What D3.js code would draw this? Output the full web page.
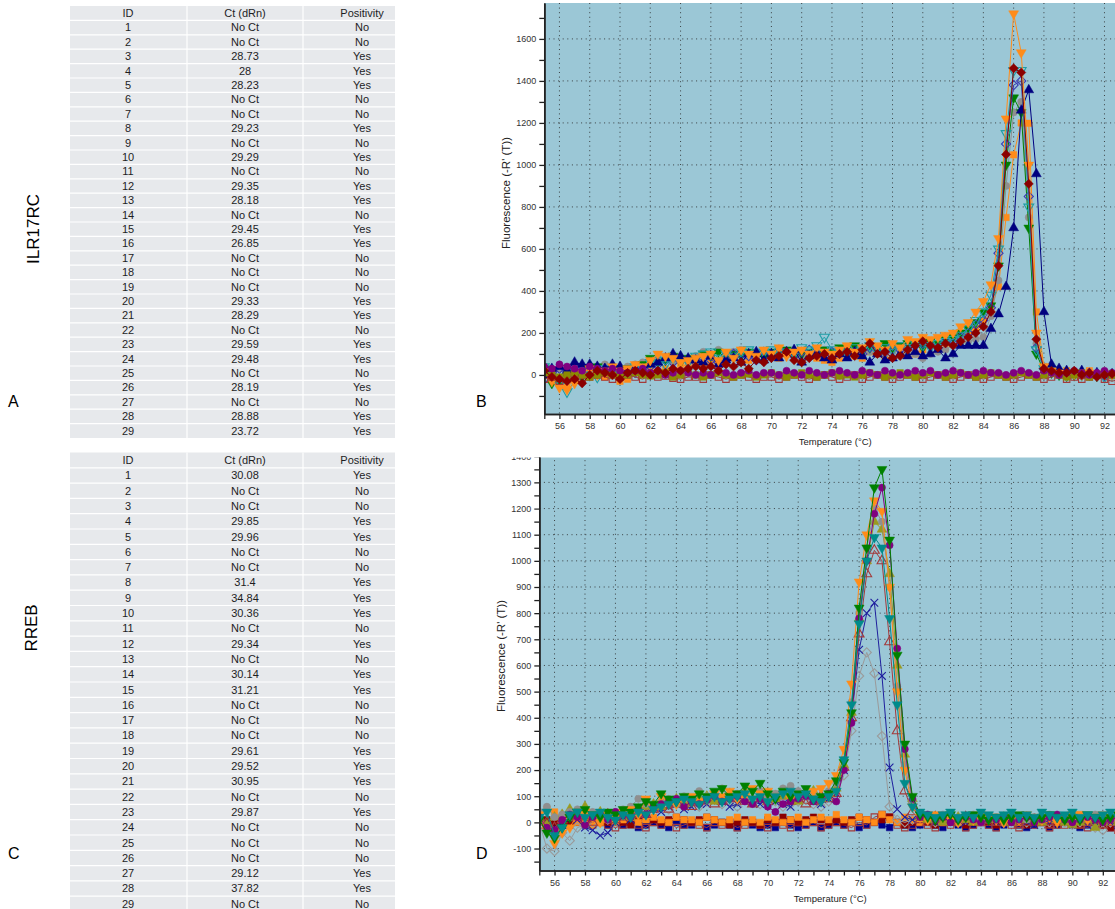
<!DOCTYPE html>
<html>
<head>
<meta charset="utf-8">
<script src="https://cdn.jsdelivr.net/npm/d3@7"></script>
<style>
  body { margin: 0; background: #fff; }
  svg { display: block; font-family: "Liberation Sans", Arial, sans-serif; }
</style>
</head>
<body>
<div id="fig"></div>
<script>
// ---------- table data ----------
const idsA = [1,2,3,4,5,6,7,8,9,10,11,12,13,14,15,16,17,18,19,20,21,22,23,24,25,26,27,28,29]
const ctA = ['No Ct','No Ct','28.73','28','28.23','No Ct','No Ct','29.23','No Ct','29.29','No Ct','29.35','28.18','No Ct','29.45','26.85','No Ct','No Ct','No Ct','29.33','28.29','No Ct','29.59','29.48','No Ct','28.19','No Ct','28.88','23.72']
const posA = ['No','No','Yes','Yes','Yes','No','No','Yes','No','Yes','No','Yes','Yes','No','Yes','Yes','No','No','No','Yes','Yes','No','Yes','Yes','No','Yes','No','Yes','Yes']

const idsC = [1,2,3,4,5,6,7,8,9,10,11,12,13,14,15,16,17,18,19,20,21,22,23,24,25,26,27,28,29]
const ctC = ['30.08','No Ct','No Ct','29.85','29.96','No Ct','No Ct','31.4','34.84','30.36','No Ct','29.34','No Ct','30.14','31.21','No Ct','No Ct','No Ct','29.61','29.52','30.95','No Ct','29.87','No Ct','No Ct','No Ct','29.12','37.82','No Ct']
const posC = ['Yes','No','No','Yes','Yes','No','No','Yes','Yes','Yes','No','Yes','No','Yes','Yes','No','No','No','Yes','Yes','Yes','No','Yes','No','No','No','Yes','Yes','No']

// ---------- melt curve data (temperature grid shared by all wells) ----------
const temps = [
  55,55.5,56,56.5,57,57.5,58,58.5,59,59.5,
  60,60.5,61,61.5,62,62.5,63,63.5,64,64.5,
  65,65.5,66,66.5,67,67.5,68,68.5,69,69.5,
  70,70.5,71,71.5,72,72.5,73,73.5,74,74.5,
  75,75.5,76,76.5,77,77.5,78,78.5,79,79.5,
  80,80.5,81,81.5,82,82.5,83,83.5,84,84.5,
  85,85.5,86,86.5,87,87.5,88,88.5,89,89.5,
  90,90.5,91,91.5,92,92.5,93,93.5,94,94.5]

// ILR17RC wells (panel B)
const bOrangeTri = [
  20,-30,-60,-70,-40,10,30,0,20,40,
  20,30,50,40,70,100,90,80,60,70,
  80,90,100,70,110,80,120,100,90,120,
  100,130,90,110,120,100,130,110,100,120,
  140,110,130,160,140,120,150,130,170,160,
  180,170,180,190,200,230,250,300,350,430,
  650,1220,1720,1535,1000,200,40,20,10,0,
  5,0,10,0,5,0,5,0,5,0]
const bRedDiamond = [
  20,-10,-20,-30,-20,-40,0,20,10,0,
  -20,10,20,10,0,20,10,30,20,30,
  40,30,40,20,50,40,60,30,70,60,
  80,90,110,70,60,80,90,100,80,100,
  110,90,120,150,100,110,80,90,120,140,
  160,140,130,150,140,160,180,200,230,300,
  520,1050,1460,1440,910,170,30,20,10,10,
  20,0,10,-10,0,5,0,10,0,5]
const bNavyTri = [
  0,30,40,20,60,50,50,40,30,50,
  40,10,30,20,50,60,80,100,90,80,
  70,60,90,50,70,80,60,100,110,70,
  100,80,110,120,60,90,100,80,70,100,
  80,110,90,60,100,70,80,100,90,110,
  90,100,120,80,100,140,140,140,140,220,
  290,420,700,1260,1357,957,300,50,30,20,
  10,20,0,10,0,5,10,0,5,0]
const bTealTri = [
  40,-20,-50,-80,-30,10,20,-10,30,20,
  10,20,40,30,60,70,50,80,70,60,
  90,100,110,80,100,90,110,120,100,110,
  120,100,110,100,130,120,140,180,120,110,
  100,130,120,140,110,130,120,140,130,150,
  140,130,150,160,170,190,220,260,300,380,
  600,1150,1450,1450,800,120,30,20,10,0,
  10,0,5,0,-10,0,5,0,-5,0]
const bGreenTri = [
  30,-40,-30,20,10,-10,30,40,20,10,
  0,30,20,50,80,60,70,90,60,80,
  70,100,90,110,80,100,90,110,100,90,
  110,100,120,90,100,110,100,120,110,130,
  120,140,110,130,120,150,130,140,150,140,
  130,160,150,170,180,200,220,250,300,330,
  520,1000,1320,1250,700,100,20,10,0,-5,
  0,5,0,-5,0,5,0,-5,0,5]
const bGreyCircle = [
  10,20,30,10,0,20,30,40,50,40,
  30,40,50,60,70,80,70,60,80,70,
  90,110,100,120,100,110,120,90,100,110,
  90,110,100,90,80,100,110,120,90,100,
  110,100,90,110,120,100,110,120,110,100,
  80,100,110,120,140,150,160,170,180,280,
  450,900,1250,1300,750,150,40,20,10,0,
  10,0,10,0,5,0,10,0,5,0]
const bOrangeSq = [
  0,20,-40,-60,-20,10,0,30,-10,0,
  -30,-20,10,30,20,10,30,20,40,50,
  60,40,70,50,80,90,60,70,80,100,
  90,80,100,110,90,100,80,70,60,80,
  100,90,80,110,100,90,120,130,110,100,
  120,140,130,150,180,200,210,220,260,320,
  420,750,1048,1200,1198,300,40,20,10,20,
  10,0,20,0,10,0,10,0,5,0]
const bBlueDiamond = [
  -20,10,30,20,40,30,20,10,30,20,
  30,20,10,30,40,50,70,60,80,70,
  60,80,70,60,90,100,80,90,70,110,
  100,120,100,90,110,120,100,90,110,100,
  120,110,100,130,120,110,140,120,130,140,
  150,140,130,160,150,180,200,240,260,320,
  580,1100,1380,1400,850,130,30,20,10,0,
  5,0,10,0,-5,0,5,0,10,0]
const bPurpleCircle = [
  40,30,50,40,30,20,40,30,20,30,
  20,10,20,30,10,20,0,10,20,10,
  0,10,0,20,10,0,10,20,0,10,
  10,0,20,10,0,20,10,0,10,20,
  10,0,20,10,0,20,10,0,10,20,
  10,20,0,10,20,10,0,10,20,10,
  10,0,10,20,10,0,20,10,0,10,
  20,10,0,10,20,10,0,10,0,10]
const bOliveSq = [
  10,0,-10,0,10,0,-10,0,10,0,
  -10,0,10,0,-5,0,10,-10,0,10,
  0,-10,0,10,0,-10,0,5,-10,0,
  10,0,-10,0,10,0,-10,0,10,-5,
  0,-10,0,10,0,-10,0,10,0,-10,
  0,10,0,-10,0,10,0,-10,0,10,
  0,-10,0,10,0,-10,0,10,0,-10,
  0,10,-10,0,10,0,-10,0,-20,-10]
const bBrownSq = [
  -20,-10,-30,-10,0,-20,-10,0,-10,-20,
  -10,0,-10,-20,0,-10,-5,-15,-20,-10,
  -10,-20,0,-10,-20,-10,0,-10,-20,-10,
  -10,-20,-10,0,-10,-20,-10,0,-10,-20,
  -10,0,-20,-10,0,-10,-20,-10,0,-10,
  -20,-10,0,-10,-20,-10,0,-10,-20,-10,
  0,-10,-20,-10,0,-10,-20,-10,0,-20,
  -10,-20,-10,0,-20,-30,-20,-10,-20,-30]

// RREB wells (panel D)
const dGreenTri = [
  10,-40,-60,-20,20,40,50,30,20,40,
  30,50,40,60,80,70,110,90,80,100,
  90,110,100,120,130,100,110,140,120,150,
  110,90,120,100,110,130,90,100,110,160,
  230,420,820,1050,1280,1350,1080,640,300,100,
  30,20,10,20,30,10,20,30,20,10,
  20,10,20,30,20,10,20,30,20,10,
  20,10,30,20,10,20,30,20,10,20]
const dPurpleCircle = [
  20,-20,-30,10,30,20,-10,20,30,10,
  40,30,20,50,30,60,70,80,90,60,
  80,70,90,100,80,90,100,80,70,90,
  60,40,70,80,90,100,80,90,110,80,
  200,380,780,1000,1180,1280,1060,665,280,90,
  20,30,10,20,0,10,20,10,0,10,
  10,20,0,10,20,0,10,20,30,10,
  0,10,20,10,0,10,20,0,10,0]
const dTealTri = [
  20,40,-50,-20,30,40,20,30,40,20,
  10,30,20,40,30,50,60,70,80,90,
  80,70,90,100,80,90,100,110,90,100,
  80,100,110,120,100,110,90,80,100,120,
  240,450,760,1000,1090,1050,780,450,150,60,
  40,30,20,30,40,20,30,20,40,30,
  20,30,40,20,30,20,40,30,20,30,
  40,20,30,20,30,40,20,30,20,30]
const dOrangeTri = [
  30,-30,-80,-40,-20,30,40,20,0,30,
  20,40,50,30,90,60,100,80,70,90,
  100,80,90,110,100,120,90,100,130,110,
  120,100,110,90,100,110,120,130,150,180,
  280,530,920,1100,1230,1190,900,500,200,60,
  20,10,30,20,10,0,20,10,30,20,
  10,0,20,10,30,20,10,20,0,10,
  30,20,10,20,30,20,10,0,20,10]
const dGreyCircle = [
  40,60,20,30,40,50,30,40,20,30,
  40,50,60,90,70,60,80,90,70,100,
  80,120,100,110,130,90,110,100,90,120,
  100,110,130,140,120,100,110,90,120,150,
  240,460,800,1050,1200,1150,900,520,220,80,
  30,20,10,30,20,10,20,30,10,20,
  20,10,30,20,10,20,10,30,20,10,
  20,10,20,30,10,20,10,20,10,20]
const dOliveTri = [
  10,-10,20,30,50,40,60,30,40,20,
  30,40,20,50,60,70,60,80,90,70,
  80,90,100,80,90,110,100,120,90,100,
  110,90,100,110,80,100,120,90,110,130,
  220,420,780,1000,1150,1120,950,600,260,90,
  20,10,20,0,10,20,10,0,20,10,
  10,20,0,10,20,10,0,20,10,0,
  -10,0,10,-20,0,10,0,-20,0,10]
const dNavyX = [
  10,0,-30,-10,20,10,-20,-30,-50,-40,
  0,20,10,30,40,50,40,60,70,50,
  60,80,70,90,80,60,70,90,80,70,
  90,80,70,60,90,100,80,70,90,110,
  200,400,660,800,840,560,210,50,20,10,
  20,10,0,10,20,10,0,10,20,10,
  0,10,20,10,0,-10,10,0,10,20,
  10,0,-10,0,10,0,-10,0,10,0]
const dGreyDiamond = [
  0,-100,-110,-40,-70,-20,-10,0,20,10,
  20,30,40,50,30,60,70,50,80,60,
  70,60,80,90,70,80,60,90,80,70,
  90,80,60,70,80,90,70,60,80,100,
  180,350,560,650,570,330,60,10,0,10,
  20,10,0,10,20,0,10,20,0,10,
  10,0,20,10,0,10,20,0,10,0,
  -10,0,10,-20,-30,0,10,0,-10,0]
const dBrownTri = [
  20,0,-20,10,30,20,10,0,20,30,
  10,20,30,40,30,50,60,50,70,80,
  60,80,90,70,80,100,90,80,70,90,
  80,90,100,80,90,70,80,100,90,110,
  210,400,720,950,1040,1000,690,350,120,40,
  10,0,20,10,0,10,20,0,10,0,
  0,10,0,-10,0,10,0,-10,0,10,
  0,-10,0,10,-10,0,10,0,-10,0]
const dRedSq = [
  20,10,0,10,-10,0,10,20,10,0,
  10,0,-10,10,20,10,0,10,20,10,
  0,10,20,10,0,-10,0,10,0,-10,
  10,0,20,10,0,10,20,10,0,10,
  0,10,20,10,0,10,20,0,-10,0,
  10,0,-10,0,10,0,-10,0,10,0,
  -10,0,10,0,-10,0,10,-10,0,10,
  0,-10,0,10,-10,-20,0,-10,-20,-10]
const dNavySq = [
  10,-10,-20,-10,0,10,-10,0,10,-10,
  0,-10,0,-20,-10,0,-10,-20,0,-10,
  -10,0,-20,-10,0,-10,-20,0,-10,-20,
  -10,-20,0,-10,-20,-10,0,-20,-10,0,
  -10,0,-20,-10,0,-10,-20,0,-10,-20,
  -10,0,-10,-20,0,-10,-20,-10,0,-10,
  -20,-10,0,-10,-20,-10,0,-20,-10,0,
  -10,-20,-10,0,-10,-20,-10,0,-20,-10]
const dOrangeSq = [
  30,50,40,10,20,0,10,-10,0,10,
  0,10,20,0,10,20,10,0,20,10,
  10,0,20,10,0,10,20,0,10,0,
  20,10,0,10,20,0,10,20,10,30,
  10,0,20,10,0,30,10,0,20,10,
  0,10,20,0,10,0,20,10,0,10,
  20,0,10,0,20,10,0,10,20,0,
  10,30,0,10,20,0,10,0,20,10]
const dBrownSq = [
  -10,0,-20,-10,0,10,0,-10,0,-10,
  -20,-10,0,-10,-20,0,-10,0,-20,-10,
  0,-10,-20,0,-10,0,-20,-10,0,-10,
  -20,0,-10,-20,0,-10,0,-20,-10,0,
  -10,-20,0,-10,20,30,20,-10,-20,-10,
  0,-10,-20,0,-10,0,-20,-10,0,-10,
  -20,0,-10,-20,0,-10,0,-20,-10,-10,
  0,-10,-20,0,-10,-20,-30,-10,0,-20]

// axis ticks
const xMajor = [56,58,60,62,64,66,68,70,72,74,76,78,80,82,84,86,88,90,92]
const xMinor = [55,57,59,61,63,65,67,69,71,73,75,77,79,81,83,85,87,89,91,93]
const yMajorB = [0,200,400,600,800,1000,1200,1400,1600]
const yMinorB = [-100,100,300,500,700,900,1100,1300,1500,1700]
const yMajorD = [-100,0,100,200,300,400,500,600,700,800,900,1000,1100,1200,1300,1400]
const yMinorD = [-150,-50,50,150,250,350,450,550,650,750,850,950,1050,1150,1250,1350]

// series styles
const seriesB = [
  { values: bOrangeSq, color: '#ff8c1a', shape: 'square', open: false },
  { values: bGreyCircle, color: '#8f8f8f', shape: 'circle', open: false },
  { values: bGreenTri, color: '#008000', shape: 'triDown', open: false },
  { values: bBlueDiamond, color: '#3a3ab4', shape: 'diamond', open: true },
  { values: bTealTri, color: '#1f9ea6', shape: 'triDown', open: true },
  { values: bNavyTri, color: '#00007f', shape: 'triUp', open: false },
  { values: bOrangeTri, color: '#ff8c1a', shape: 'triDown', open: false },
  { values: bBrownSq, color: '#a33a3a', shape: 'square', open: true },
  { values: bOliveSq, color: '#8c8c00', shape: 'square', open: false },
  { values: bPurpleCircle, color: '#800080', shape: 'circle', open: false },
  { values: bRedDiamond, color: '#8b0000', shape: 'diamond', open: false }
]
const seriesD = [
  { values: dNavySq, color: '#00008b', shape: 'square', open: false },
  { values: dBrownSq, color: '#a33a3a', shape: 'square', open: true },
  { values: dRedSq, color: '#8b0000', shape: 'square', open: false },
  { values: dOrangeSq, color: '#ff8c1a', shape: 'square', open: false },
  { values: dGreyDiamond, color: '#9a9a9a', shape: 'diamond', open: true },
  { values: dNavyX, color: '#1f1f9e', shape: 'x', open: true },
  { values: dBrownTri, color: '#a33a3a', shape: 'triUp', open: true },
  { values: dOliveTri, color: '#9a9a20', shape: 'triUp', open: false },
  { values: dGreyCircle, color: '#8f8f8f', shape: 'circle', open: false },
  { values: dOrangeTri, color: '#ff8c1a', shape: 'triDown', open: false },
  { values: dPurpleCircle, color: '#800080', shape: 'circle', open: false },
  { values: dGreenTri, color: '#008000', shape: 'triDown', open: false },
  { values: dTealTri, color: '#008b8b', shape: 'triDown', open: false }
]

const svg = d3.select('#fig').append('svg')
  .attr('width', 1115)
  .attr('height', 909)

// ---------- tables ----------
function drawTable(top, rowH, ids, ct, pos) {
  const rows = [['ID', 'Ct (dRn)', 'Positivity']].concat(ids.map((d, i) => [d, ct[i], pos[i]]))
  const g = svg.append('g')
  const edges = [70, 187, 303, 395]
  const centers = [128, 245, 362]

  g.append('rect')
    .attr('x', edges[0]).attr('y', top)
    .attr('width', edges[3] - edges[0])
    .attr('height', rows.length * rowH)
    .style('fill', '#e7e9ec')

  g.selectAll('line.h').data(d3.range(1, rows.length)).join('line')
    .attr('x1', edges[0]).attr('x2', edges[3])
    .attr('y1', d => top + d * rowH).attr('y2', d => top + d * rowH)
    .style('stroke', '#fff').style('stroke-width', 1.2)

  g.selectAll('line.v').data([edges[1], edges[2]]).join('line')
    .attr('x1', d => d).attr('x2', d => d)
    .attr('y1', top).attr('y2', top + rows.length * rowH)
    .style('stroke', '#fff').style('stroke-width', 1.2)

  const row = g.selectAll('g.row').data(rows).join('g')
    .attr('transform', (d, i) => `translate(0, ${top + (i + 0.5) * rowH})`)
  row.selectAll('text').data(d => d).join('text')
    .attr('x', (d, j) => centers[j])
    .attr('dy', '0.35em')
    .attr('text-anchor', 'middle')
    .style('font-size', '11px')
    .style('fill', '#1d1d1f')
    .text(d => d)
}

drawTable(6, 14.4, idsA, ctA, posA)
drawTable(452.5, 15.3, idsC, ctC, posC)

// ---------- panel labels ----------
svg.append('text')
  .attr('transform', 'translate(39, 229) rotate(-90)')
  .attr('text-anchor', 'middle')
  .style('font-size', '17px')
  .text('ILR17RC')
svg.append('text')
  .attr('transform', 'translate(37, 628) rotate(-90)')
  .attr('text-anchor', 'middle')
  .style('font-size', '17px')
  .text('RREB')
const letters = [['A', 8, 407], ['B', 476, 407], ['C', 8, 859], ['D', 476, 859]]
svg.selectAll('text.letter').data(letters).join('text')
  .attr('x', d => d[1]).attr('y', d => d[2])
  .style('font-size', '16px')
  .text(d => d[0])

// ---------- melt curve charts ----------
function symbolPath(shape) {
  if (shape === 'triUp' || shape === 'triDown') return d3.symbol().type(d3.symbolTriangle).size(42)()
  if (shape === 'square' || shape === 'diamond') return d3.symbol().type(d3.symbolSquare).size(42)()
  if (shape === 'circle') return d3.symbol().type(d3.symbolCircle).size(40)()
  return d3.symbol().type(d3.symbolTimes || d3.symbolX).size(40)()
}
function symbolRotate(shape) {
  if (shape === 'triDown') return 180
  if (shape === 'diamond') return 45
  return 0
}

function drawMelt(opt) {
  const g = svg.append('g')
  if (opt.clipTop !== undefined) {
    g.append('clipPath').attr('id', opt.id + '-crop')
      .append('rect').attr('x', 470).attr('y', opt.clipTop)
      .attr('width', 660).attr('height', 909 - opt.clipTop)
    g.attr('clip-path', `url(#${opt.id}-crop)`)
  }

  const x = d3.scaleLinear().domain([55, 94]).range([opt.left, opt.left + opt.pxPerDeg * 39])
  const y = d3.scaleLinear().domain(opt.yDomain).range([opt.bottom, opt.top])

  g.append('rect')
    .attr('x', opt.left).attr('y', opt.top)
    .attr('width', 1115 - opt.left).attr('height', opt.bottom - opt.top)
    .style('fill', '#9bc7d6')

  g.append('clipPath').attr('id', opt.id + '-plot')
    .append('rect').attr('x', opt.left).attr('y', opt.top)
    .attr('width', 1115 - opt.left).attr('height', opt.bottom - opt.top)

  // dotted grid
  const grid = g.append('g')
    .style('stroke', '#2a2a2a').style('stroke-width', 1)
    .style('stroke-dasharray', '1,3.6').style('opacity', 0.85)
  grid.selectAll('line.gx').data(xMajor.concat([94])).join('line')
    .attr('x1', d => x(d)).attr('x2', d => x(d))
    .attr('y1', opt.top).attr('y2', opt.bottom)
  grid.selectAll('line.gy').data(opt.yMajor.filter(v => y(v) > opt.top + 1)).join('line')
    .attr('x1', opt.left).attr('x2', 1115)
    .attr('y1', d => y(d)).attr('y2', d => y(d))

  // curves
  const plot = g.append('g').attr('clip-path', `url(#${opt.id}-plot)`)
  const line = d3.line().x((d, i) => x(temps[i])).y(d => y(d))
  opt.series.forEach(s => {
    plot.append('path')
      .attr('d', line(s.values))
      .style('fill', 'none')
      .style('stroke', s.color)
      .style('stroke-width', 1)
    const p = symbolPath(s.shape)
    const r = symbolRotate(s.shape)
    plot.append('g').selectAll('path').data(s.values).join('path')
      .attr('d', p)
      .attr('transform', (d, i) => `translate(${x(temps[i])},${y(d)}) rotate(${r})`)
      .style('fill', s.open || s.shape === 'x' ? 'none' : s.color)
      .style('stroke', s.color)
      .style('stroke-width', s.open || s.shape === 'x' ? 1.1 : 0.5)
  })

  // axes
  const styleAxis = sel => {
    sel.select('.domain').style('stroke', '#222').style('stroke-width', 1.6)
    sel.selectAll('.tick line').style('stroke', '#222').style('stroke-width', 1.3)
    sel.selectAll('text').style('font-size', '9px').style('fill', '#333')
      .style('font-family', '"Liberation Sans", Arial, sans-serif')
  }
  g.append('g').attr('transform', `translate(0, ${opt.bottom})`)
    .call(d3.axisBottom(x).tickValues(xMinor).tickSize(5).tickSizeOuter(0).tickFormat(''))
    .call(styleAxis)
  g.append('g').attr('transform', `translate(0, ${opt.bottom})`)
    .call(d3.axisBottom(x).tickValues(xMajor).tickSize(5).tickSizeOuter(0).tickPadding(4).tickFormat(d => String(d)))
    .call(styleAxis)
  g.append('g').attr('transform', `translate(${opt.left}, 0)`)
    .call(d3.axisLeft(y).tickValues(opt.yMinor).tickSize(5).tickSizeOuter(0).tickFormat(''))
    .call(styleAxis)
  g.append('g').attr('transform', `translate(${opt.left}, 0)`)
    .call(d3.axisLeft(y).tickValues(opt.yMajor).tickSize(5).tickSizeOuter(0).tickPadding(3).tickFormat(d => String(d)))
    .call(styleAxis)

  g.append('text')
    .attr('x', opt.left + 291).attr('y', opt.bottom + 31)
    .attr('text-anchor', 'middle')
    .style('font-size', '9.5px').style('fill', '#222')
    .text('Temperature (°C)')
  g.append('text')
    .attr('transform', `translate(${opt.yTitleX}, ${opt.yTitleY}) rotate(-90)`)
    .attr('text-anchor', 'middle')
    .style('font-size', '11.5px').style('fill', '#222')
    .text("Fluorescence (-R' (T))")
}

drawMelt({
  id: 'meltB', left: 544.3, pxPerDeg: 15.14, top: 3, bottom: 414,
  yDomain: [-186, 1771], yMajor: yMajorB, yMinor: yMinorB,
  series: seriesB, yTitleX: 510, yTitleY: 193
})
drawMelt({
  id: 'meltD', left: 539.3, pxPerDeg: 15.23, top: 451, bottom: 870.5,
  yDomain: [-184, 1420], yMajor: yMajorD, yMinor: yMinorD,
  series: seriesD, yTitleX: 505, yTitleY: 656, clipTop: 457.5
})
</script>
</body>
</html>
